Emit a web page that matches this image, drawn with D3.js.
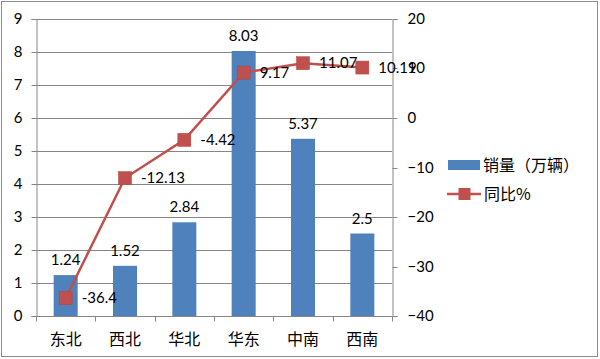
<!DOCTYPE html>
<html><head><meta charset="utf-8">
<script src="https://cdn.jsdelivr.net/npm/d3@7"></script>
<style>
body{margin:0;background:#fff;}
svg{display:block;}
</style></head>
<body>
<svg id="c" width="600" height="359"></svg>
<script>
const categories = ["东北","西北","华北","华东","中南","西南"];
const sales = [1.24, 1.52, 2.84, 8.03, 5.37, 2.5];
const yoy = [-36.4, -12.13, -4.42, 9.17, 11.07, 10.19];
const leftTicks = [0,1,2,3,4,5,6,7,8,9];
const rightTicks = [-40,-30,-20,-10,0,10,20];
const seriesNames = ["销量（万辆）","同比%"];

const numFont = "Lato, 'Noto Sans', sans-serif";
const cjkFont = "'Noto Sans CJK SC', sans-serif";
const barColor = "#4F81BD", lineColor = "#C0504D";

const svg = d3.select("#c");
svg.append("rect").attr("x",1.5).attr("y",1.5).attr("width",596).attr("height",355)
  .attr("fill","#fff").attr("stroke","#8c8c8c").attr("stroke-width",1);

const L = 36, R = 392, T = 19, B = 316;
const xc = d3.scaleBand().domain(categories).range([L,R]);
const y = d3.scaleLinear().domain([0,9]).range([B,T]);
const y2 = d3.scaleLinear().domain([-40,20]).range([B,T]);

// gridlines
svg.append("g").selectAll("line").data(leftTicks.slice(1)).join("line")
  .attr("x1",L).attr("x2",R).attr("y1",d=>Math.round(y(d))+0.5).attr("y2",d=>Math.round(y(d))+0.5)
  .attr("stroke","#868686").attr("stroke-width",1);

// bars
svg.append("g").selectAll("rect").data(sales).join("rect")
  .attr("x",(d,i)=>xc(categories[i])+xc.bandwidth()/2-12)
  .attr("width",24)
  .attr("y",d=>y(d)).attr("height",d=>B-y(d))
  .attr("fill",barColor);

// left axis
const gl = svg.append("g").attr("transform",`translate(${L+0.5},0)`)
  .call(d3.axisLeft(y).tickValues(leftTicks).tickSize(5).tickPadding(9).tickFormat(d3.format("d")));
gl.select(".domain").attr("stroke","#868686");
gl.selectAll(".tick line").attr("stroke","#868686");
gl.selectAll("text").attr("font-family",numFont).attr("font-size",15).attr("fill","#000");
gl.selectAll(".tick").attr("transform",d=>`translate(0,${Math.round(y(d))+0.5})`);

// right axis
const gr = svg.append("g").attr("transform",`translate(${R+0.5},0)`)
  .call(d3.axisRight(y2).tickValues(rightTicks).tickSize(5).tickPadding(10).tickFormat(d3.format("d")));
gr.select(".domain").attr("stroke","#868686");
gr.selectAll(".tick line").attr("stroke","#868686");
gr.selectAll("text").attr("font-family",numFont).attr("font-size",15).attr("fill","#000");
gr.selectAll(".tick").attr("transform",d=>`translate(0,${Math.round(y2(d))+0.5})`);

// bottom axis
const gb = svg.append("g").attr("transform",`translate(0,${B+0.5})`);
gb.append("line").attr("x1",L).attr("x2",R).attr("stroke","#868686");
gb.selectAll("line.t").data(categories.concat(["end"])).join("line").attr("class","t")
  .attr("x1",(d,i)=>Math.round(L+i*xc.step())+0.5).attr("x2",(d,i)=>Math.round(L+i*xc.step())+0.5)
  .attr("y1",0).attr("y2",5).attr("stroke","#868686");
gb.selectAll("text").data(categories).join("text")
  .attr("x",d=>xc(d)+xc.bandwidth()/2).attr("y",28)
  .attr("text-anchor","middle").attr("font-family",cjkFont).attr("font-size",16).attr("fill","#000")
  .text(d=>d);

// bar labels
svg.append("g").selectAll("text").data(sales).join("text")
  .attr("x",(d,i)=>xc(categories[i])+xc.bandwidth()/2).attr("y",d=>y(d)-10)
  .attr("text-anchor","middle").attr("font-family",numFont).attr("font-size",15).attr("fill","#000")
  .text(d=>d);

// line
const pts = yoy.map((v,i)=>[xc(categories[i])+xc.bandwidth()/2, y2(v)]);
svg.append("path").attr("d",d3.line()(pts)).attr("fill","none").attr("stroke",lineColor).attr("stroke-width",2.5);
svg.append("g").selectAll("rect").data(pts).join("rect")
  .attr("x",d=>d[0]-6.5).attr("y",d=>d[1]-6.5).attr("width",13).attr("height",13)
  .attr("fill",lineColor).attr("stroke","#B9403C").attr("stroke-width",0.5);
svg.append("g").selectAll("text").data(yoy).join("text")
  .attr("x",(d,i)=>pts[i][0]+16).attr("y",(d,i)=>pts[i][1]+5)
  .attr("font-family",numFont).attr("font-size",15).attr("fill","#000")
  .text(d=>d);

// legend
const lg = svg.append("g");
lg.append("rect").attr("x",448).attr("y",160).attr("width",32).attr("height",10).attr("fill",barColor);
lg.append("text").attr("x",483).attr("y",171).attr("font-family",cjkFont).attr("font-size",16).attr("fill","#000").text(seriesNames[0]);
lg.append("line").attr("x1",447).attr("x2",481).attr("y1",194).attr("y2",194).attr("stroke",lineColor).attr("stroke-width",2.5);
lg.append("rect").attr("x",458.5).attr("y",188).attr("width",12).attr("height",12).attr("fill",lineColor);
lg.append("text").attr("x",484).attr("y",200).attr("font-family",cjkFont).attr("font-size",16).attr("fill","#000").text(seriesNames[1]);
</script>
</body></html>
